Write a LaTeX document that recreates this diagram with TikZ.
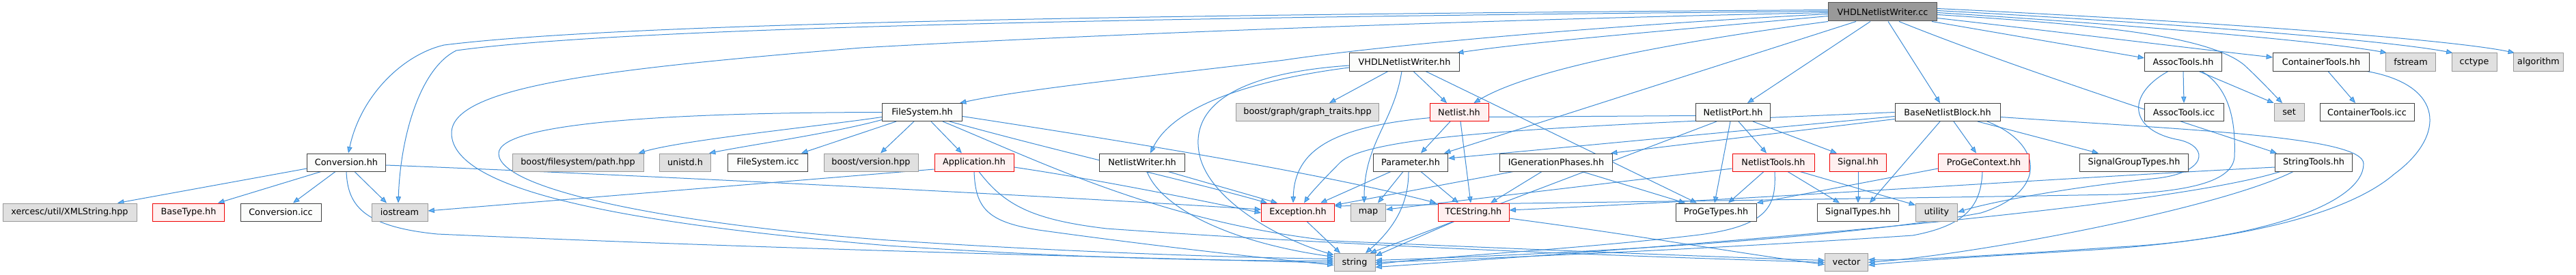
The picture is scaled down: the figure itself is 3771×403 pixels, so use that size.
\documentclass[tikz,border=0pt]{standalone}
\usepackage{fontspec}
\setmainfont{DejaVu Sans}
\usetikzlibrary{arrows.meta}
\definecolor{ecol}{HTML}{3F8DD6}
\definecolor{acol}{HTML}{63B8FF}
\definecolor{wfill}{HTML}{FBFCFB}
\definecolor{wline}{HTML}{404040}
\definecolor{gfill}{HTML}{E0E0E0}
\definecolor{gline}{HTML}{999999}
\definecolor{rfill}{HTML}{FFF0F0}
\definecolor{rline}{HTML}{F00000}
\definecolor{rootfill}{HTML}{999999}
\definecolor{rootline}{HTML}{555555}
\newcommand\gfont{\fontsize{9.6}{11}\selectfont}
\pgfdeclarelayer{background}
\pgfdeclarelayer{edgelayer}
\pgfsetlayers{background,edgelayer,main}
\tikzset{
  box/.style={rectangle, minimum height=19.5pt, inner sep=0pt, font=\gfont, line width=0.75pt, text=black},
  bw/.style={minimum width=#1*0.75pt},
  wn/.style={box, fill=wfill, draw=wline},
  gn/.style={box, fill=gfill, draw=gline},
  rn/.style={box, fill=rfill, draw=rline},
  rootn/.style={box, fill=rootfill, draw=rootline, minimum height=20.25pt},
  conn/.style={draw=ecol, line width=0.75pt, -{Triangle[length=7pt,width=5.5pt,fill=acol]}}
}
\begin{document}
\begin{tikzpicture}[x=0.75pt,y=-0.75pt]
\useasboundingbox (0,0) rectangle (3771,403);
\begin{pgfonlayer}{background}
\fill[white] (0,0) rectangle (3771,403);
\end{pgfonlayer}
% row 0
\node[rootn,bw=159] (R) at (2756,17.5) {VHDLNetlistWriter.cc};
% row 1
\node[wn,bw=161] (VH) at (2056,91) {VHDLNetlistWriter.hh};
\node[wn,bw=113] (AT) at (3196,91) {AssocTools.hh};
\node[wn,bw=141] (CT) at (3398,91) {ContainerTools.hh};
\node[gn,bw=73] (fst) at (3529,91) {fstream};
\node[gn,bw=66] (cct) at (3622,91) {cctype};
\node[gn,bw=73] (alg) at (3716,91) {algorithm};
% row 2
\node[wn,bw=117] (F) at (1350,164.5) {FileSystem.hh};
\node[gn,bw=209] (GT) at (1914,164.5) {boost/graph/graph\_traits.hpp};
\node[rn,bw=86] (N) at (2136,164.5) {Netlist.hh};
\node[wn,bw=109] (NP) at (2537,164.5) {NetlistPort.hh};
\node[wn,bw=154] (B) at (2851,164.5) {BaseNetlistBlock.hh};
\node[wn,bw=116] (ATi) at (3197,164.5) {AssocTools.icc};
\node[gn,bw=44] (set) at (3351,164.5) {set};
\node[wn,bw=138] (CTi) at (3465,164.5) {ContainerTools.icc};
% row 3
\node[wn,bw=115] (C) at (507,238) {Conversion.hh};
\node[gn,bw=192] (path) at (846,238) {boost/filesystem/path.hpp};
\node[gn,bw=75] (uni) at (1003,238) {unistd.h};
\node[wn,bw=117] (FSi) at (1124,238) {FileSystem.icc};
\node[gn,bw=138] (ver) at (1275,238) {boost/version.hpp};
\node[rn,bw=116] (A) at (1426,238) {Application.hh};
\node[wn,bw=125] (NW) at (1672,238) {NetlistWriter.hh};
\node[wn,bw=109] (P) at (2065,238) {Parameter.hh};
\node[wn,bw=165] (IG) at (2278,238) {IGenerationPhases.hh};
\node[rn,bw=120] (NT) at (2596,238) {NetlistTools.hh};
\node[rn,bw=83] (Sig) at (2720,238) {Signal.hh};
\node[rn,bw=133] (PC) at (2904,238) {ProGeContext.hh};
\node[wn,bw=159] (SG) at (3124,238) {SignalGroupTypes.hh};
\node[wn,bw=113] (ST) at (3387,238) {StringTools.hh};
% row 4
\node[gn,bw=196] (xer) at (102,311) {xercesc/util/XMLString.hpp};
\node[rn,bw=105] (BT) at (276,311) {BaseType.hh};
\node[wn,bw=118] (Ci) at (411,311) {Conversion.icc};
\node[gn,bw=82] (ios) at (585,311) {iostream};
\node[rn,bw=107] (E) at (1900,311) {Exception.hh};
\node[gn,bw=51] (map) at (2003,311) {map};
\node[rn,bw=104] (TS) at (2157,311) {TCEString.hh};
\node[wn,bw=118] (PT) at (2512,311) {ProGeTypes.hh};
\node[wn,bw=119] (STy) at (2720,311) {SignalTypes.hh};
\node[gn,bw=61] (util) at (2835,311) {utility};
% row 5
\node[gn,bw=60] (str) at (1983,384.5) {string};
\node[gn,bw=63] (vec) at (2703,384.5) {vector};

\begin{pgfonlayer}{edgelayer}
% root
\draw[conn] ([shift={(0,-3)}]R.west) .. controls (1600,22) and (900,35) .. (650,66) .. controls (590,80) and (528,140) .. ([shift={(3,0)}]C.north);
\draw[conn] ([shift={(0,-1)}]R.west) .. controls (1600,26) and (900,42) .. (668,74) .. controls (615,100) and (586,200) .. ([shift={(-2,0)}]ios.north);
\draw[conn] ([shift={(0,1)}]R.west) .. controls (2300,26) and (1700,45) .. (1261,70) .. controls (900,100) and (661,125) .. (661,195) .. controls (661,285) and (950,330) .. (1300,360) .. controls (1600,380) and (1800,382) .. ([shift={(0,-2)}]str.west);
\draw[conn] ([shift={(0,3)}]R.west) .. controls (2300,40) and (2000,70) .. (1880,88) .. controls (1700,110) and (1500,130) .. ([shift={(-4,0)}]F.north east);
\draw[conn] ([shift={(0,6)}]R.west) .. controls (2500,40) and (2250,60) .. ([shift={(-4,0)}]VH.north east);
\draw[conn] (R.south west) .. controls (2500,55) and (2250,95) .. ([shift={(-22,0)}]N.north east);
\draw[conn] ([shift={(-39,0)}]R.south) -- ([shift={(49,0)}]P.north);
\draw[conn] ([shift={(-18,0)}]R.south) -- ([shift={(21,0)}]NP.north);
\draw[conn] ([shift={(8,0)}]R.south) -- ([shift={(-11,0)}]B.north);
\draw[conn] ([shift={(24,0)}]R.south) .. controls (2950,100) and (3200,180) .. ([shift={(3,0)}]ST.north west);
\draw[conn] ([shift={(-8,0)}]R.south east) -- ([shift={(0,-6)}]AT.west);
\draw[conn] ([shift={(0,9)}]R.east) .. controls (3000,45) and (3200,70) .. ([shift={(0,-7)}]CT.west);
\draw[conn] ([shift={(0,4)}]R.east) .. controls (3050,35) and (3230,50) .. (3285,95) .. controls (3310,118) and (3330,140) .. ([shift={(-10,0)}]set.north);
\draw[conn] ([shift={(0,1)}]R.east) .. controls (3100,35) and (3400,60) .. ([shift={(2,0)}]fst.north west);
\draw[conn] ([shift={(0,-2)}]R.east) .. controls (3200,35) and (3500,60) .. ([shift={(2,0)}]cct.north west);
\draw[conn] ([shift={(0,-5)}]R.east) .. controls (3300,35) and (3600,60) .. ([shift={(2,0)}]alg.north west);
% Conversion
\draw[conn] ([shift={(0,9)}]C.west) -- ([shift={(70,0)}]xer.north);
\draw[conn] ([shift={(-37,0)}]C.south) -- ([shift={(43,0)}]BT.north);
\draw[conn] ([shift={(-16,0)}]C.south) -- ([shift={(18,0)}]Ci.north);
\draw[conn] ([shift={(12,0)}]C.south) -- ([shift={(-19,0)}]ios.north);
\draw[conn] (C.south) .. controls (509,300) and (530,332) .. (640,343) .. controls (1200,368) and (1700,378) .. ([shift={(0,1)}]str.west);
\draw[conn] ([shift={(0,4)}]C.east) .. controls (900,255) and (1500,285) .. ([shift={(0,-4)}]E.west);
% FileSystem
\draw[conn] ([shift={(0,7)}]F.west) .. controls (1200,185) and (1000,205) .. ([shift={(-8,0)}]path.north east);
\draw[conn] ([shift={(0,11)}]F.west) .. controls (1220,195) and (1100,212) .. ([shift={(-3,0)}]uni.north east);
\draw[conn] ([shift={(-38,0)}]F.south) -- ([shift={(-10,0)}]FSi.north east);
\draw[conn] ([shift={(-12,0)}]F.south) -- ([shift={(14,0)}]ver.north);
\draw[conn] ([shift={(13,0)}]F.south) -- ([shift={(-18,0)}]A.north);
\draw[conn] ([shift={(40,0)}]F.south) .. controls (1560,225) and (1760,270) .. ([shift={(-45,0)}]E.north);
\draw[conn] ([shift={(30,0)}]F.south) .. controls (1530,240) and (1700,325) .. (1950,353) .. controls (2300,368) and (2550,378) .. ([shift={(0,-3)}]vec.west);
\draw[conn] ([shift={(0,6)}]F.east) .. controls (1700,215) and (1950,258) .. ([shift={(-2,0)}]TS.north west);
\draw[conn] (F.west) .. controls (1000,165) and (730,178) .. (730,225) .. controls (730,280) and (1000,330) .. (1300,352) .. controls (1600,372) and (1850,378) .. ([shift={(0,-5)}]str.west);
% Application
\draw[conn] ([shift={(0,10)}]A.west) -- ([shift={(0,-2)}]ios.east);
\draw[conn] ([shift={(0,7)}]A.east) .. controls (1600,262) and (1750,292) .. ([shift={(0,1)}]E.west);
\draw[conn] (A.south) .. controls (1428,305) and (1445,325) .. (1520,337) .. controls (1700,362) and (1850,378) .. ([shift={(0,4)}]str.west);
\draw[conn] ([shift={(7,0)}]A.south) .. controls (1470,300) and (1510,322) .. (1620,335) .. controls (2000,362) and (2400,376) .. (vec.west);
% NetlistWriter
\draw[conn] ([shift={(7,0)}]NW.south) .. controls (1700,305) and (1800,355) .. ([shift={(0,-8)}]str.west);
\draw[conn] ([shift={(38,0)}]NW.south) -- ([shift={(-30,0)}]E.north);
% VHDLNetlistWriter.hh
\draw[conn] ([shift={(-24,0)}]VH.south) -- ([shift={(32,0)}]GT.north);
\draw[conn] ([shift={(-4,0)}]VH.south) .. controls (2040,180) and (1997,210) .. ([shift={(-6,0)}]map.north);
\draw[conn] ([shift={(13,0)}]VH.south) -- ([shift={(-18,0)}]N.north);
\draw[conn] ([shift={(31,0)}]VH.south) -- ([shift={(-28,0)}]PT.north);
\draw[conn] ([shift={(0,8)}]VH.west) .. controls (1850,115) and (1720,150) .. ([shift={(12,0)}]NW.north);
\draw[conn] ([shift={(0,5)}]VH.west) .. controls (1800,108) and (1745,160) .. (1755,222) .. controls (1765,290) and (1870,350) .. ([shift={(0,-11)}]str.west);
% Netlist
\draw[conn] ([shift={(-13,0)}]N.south) -- ([shift={(15,0)}]P.north);
\draw[conn] ([shift={(2,0)}]N.south) -- ([shift={(-4,0)}]TS.north);
% NetlistPort
\draw[conn] ([shift={(0,5)}]NP.west) -- (2100,172) .. controls (1950,185) and (1895,220) .. ([shift={(-7,0)}]E.north);
\draw[conn] ([shift={(-24,0)}]NP.south) -- ([shift={(-8,0)}]str.north east);
\draw[conn] ([shift={(-4,0)}]NP.south) -- ([shift={(-2,0)}]PT.north);
\draw[conn] ([shift={(8,0)}]NP.south) -- ([shift={(-10,0)}]NT.north);
\draw[conn] ([shift={(29,0)}]NP.south) -- ([shift={(-31,0)}]Sig.north);
% BaseNetlistBlock
\draw[conn] (B.west) .. controls (2300,185) and (2000,195) .. (1960,240) .. controls (1935,265) and (1917,285) .. ([shift={(9,0)}]E.north);
\draw[conn] ([shift={(0,6)}]B.west) -- ([shift={(0,-6)}]P.east);
\draw[conn] ([shift={(0,10)}]B.west) -- ([shift={(-3,0)}]IG.north east);
\draw[conn] ([shift={(-11,0)}]B.south) -- ([shift={(17,0)}]STy.north);
\draw[conn] ([shift={(9,0)}]B.south) -- ([shift={(-11,0)}]PC.north);
\draw[conn] ([shift={(44,0)}]B.south) -- ([shift={(-52,0)}]SG.north);
\draw[conn] ([shift={(58,0)}]B.south) .. controls (2990,210) and (3000,280) .. (2900,312) .. controls (2700,350) and (2300,372) .. ([shift={(0,-3)}]str.east);
\draw[conn] ([shift={(0,7)}]B.east) .. controls (3200,190) and (3460,200) .. (3460,240) .. controls (3460,300) and (3300,352) .. (3100,362) .. controls (2950,372) and (2800,382) .. ([shift={(0,-4)}]vec.east);
% ProGeContext
\draw[conn] ([shift={(0,9)}]PC.west) -- (PT.north east);
\draw[conn] ([shift={(-2,0)}]PC.south) .. controls (2900,300) and (2880,330) .. (2800,345) .. controls (2500,365) and (2200,378) .. (str.east);
% Signal
\draw[conn] (Sig.south) -- (STy.north);
% NetlistTools
\draw[conn] ([shift={(0,9)}]NT.west) -- ([shift={(0,-4)}]map.east);
\draw[conn] ([shift={(-14,0)}]NT.south) -- ([shift={(18,0)}]PT.north);
\draw[conn] ([shift={(2,0)}]NT.south) .. controls (2600,300) and (2592,332) .. (2480,345) .. controls (2300,366) and (2100,376) .. ([shift={(0,3)}]str.east);
\draw[conn] ([shift={(21,0)}]NT.south) -- ([shift={(-27,0)}]STy.north);
\draw[conn] ([shift={(39,0)}]NT.south) -- ([shift={(0,3)}]util.north west);
% IGenerationPhases
\draw[conn] ([shift={(-63,0)}]IG.south) -- ([shift={(0,3)}]E.north east);
\draw[conn] ([shift={(-21,0)}]IG.south) -- ([shift={(25,0)}]TS.north);
\draw[conn] ([shift={(38,0)}]IG.south) -- ([shift={(-45,0)}]PT.north);
% Parameter
\draw[conn] ([shift={(-29,0)}]P.south) -- ([shift={(-21,0)}]E.north east);
\draw[conn] ([shift={(-11,0)}]P.south) -- ([shift={(14,0)}]map.north);
\draw[conn] ([shift={(-3,0)}]P.south) .. controls (2062,300) and (2040,335) .. ([shift={(16,0)}]str.north);
\draw[conn] ([shift={(15,0)}]P.south) -- ([shift={(-22,0)}]TS.north);
% Exception, TCEString
\draw[conn] ([shift={(13,0)}]E.south) -- ([shift={(-21,0)}]str.north);
\draw[conn] ([shift={(-28,0)}]TS.south) -- ([shift={(0,4)}]str.north east);
\draw[conn] ([shift={(0,9)}]TS.east) .. controls (2400,345) and (2550,372) .. ([shift={(0,3)}]vec.west);
% StringTools
\draw[conn] ([shift={(0,7)}]ST.west) .. controls (3000,262) and (2600,290) .. ([shift={(0,-3)}]TS.east);
\draw[conn] ([shift={(-49,0)}]ST.south) .. controls (3200,295) and (2700,345) .. ([shift={(0,7)}]str.east);
\draw[conn] ([shift={(-30,0)}]ST.south) .. controls (3250,305) and (2900,372) .. (vec.east);
% AssocTools
\draw[conn] (AT.south) -- (ATi.north);
\draw[conn] ([shift={(23,0)}]AT.south) -- (set.north west);
\draw[conn] ([shift={(-22,0)}]AT.south) .. controls (3110,140) and (3118,192) .. (3190,205) .. controls (3235,215) and (3232,255) .. (3150,262) .. controls (3000,278) and (2900,300) .. (util.east);
\draw[conn] ([shift={(27,0)}]AT.south) .. controls (3265,130) and (3273,180) .. (3271,230) .. controls (3268,262) and (3220,280) .. (3100,285) .. controls (2700,292) and (2200,298) .. ([shift={(0,-9)}]E.east);
% ContainerTools
\draw[conn] ([shift={(10,0)}]CT.south) -- ([shift={(-17,0)}]CTi.north);
\draw[conn] ([shift={(67,0)}]CT.south) .. controls (3580,125) and (3580,200) .. (3505,255) .. controls (3430,320) and (3250,356) .. (3050,367) .. controls (2900,376) and (2800,382) .. ([shift={(0,4)}]vec.east);
\end{pgfonlayer}
\end{tikzpicture}
\end{document}
